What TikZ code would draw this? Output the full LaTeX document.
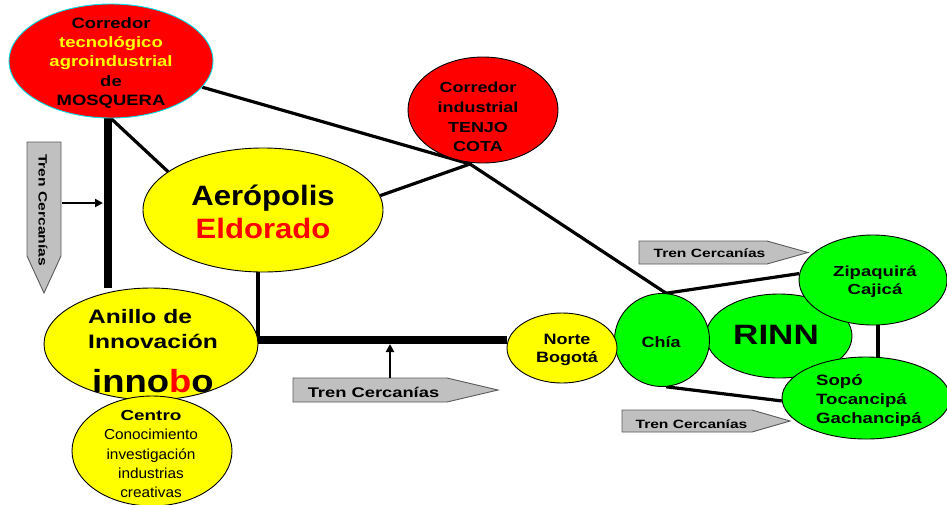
\documentclass[tikz,border=0pt]{standalone}
\usepackage{fontspec}
\setmainfont{Liberation Sans}
\usetikzlibrary{shapes.geometric,arrows.meta,calc,backgrounds}
\definecolor{gRed}{RGB}{255,0,0}
\definecolor{gYel}{RGB}{255,255,0}
\definecolor{gGrn}{RGB}{0,255,0}
\definecolor{gGray}{RGB}{192,192,192}
\definecolor{gGrayD}{RGB}{90,90,90}
\definecolor{gCyan}{RGB}{0,225,235}
\newcommand{\txf}[3]{\fontsize{#1}{#2}\selectfont\addfontfeature{FakeStretch=#3}}
\begin{document}
\begin{tikzpicture}[x=1pt,y=-1pt,
  ell/.style={ellipse, draw=black, line width=0.9pt, inner sep=0pt},
  conn/.style={line width=3.2pt},
  rail/.style={line width=8pt},
  tren/.style={fill=gGray, draw=gGrayD, line width=0.9pt},
  lbl/.style={inner sep=0pt, align=center, text=black},
  ptr/.style={line width=2pt, -{Triangle[length=8pt,width=8pt]}}]
\useasboundingbox (0,0) rectangle (947,504);
\clip (0,0) rectangle (947,504);

% ellipses
\node[ell, draw=gCyan, fill=gRed, minimum width=204, minimum height=114] (mosq) at (111,61) {};
\node[ell, fill=gRed, minimum width=150, minimum height=106] (tenjo) at (483,110) {};
\node[ell, fill=gYel, minimum width=240, minimum height=124] (aero) at (263,210) {};
\node[ell, fill=gYel, minimum width=214, minimum height=112] (anillo) at (151,344) {};
\node[ell, fill=gYel, minimum width=160, minimum height=110] (centro) at (152,451) {};
\node[ell, fill=gGrn, minimum width=146, minimum height=84] (rinn) at (779,336) {};
\node[ell, fill=gGrn, minimum width=95, minimum height=93] (chia) at (662,340) {};
\node[ell, fill=gYel, minimum width=110, minimum height=70] (norte) at (562,348) {};
\node[ell, fill=gGrn, minimum width=148, minimum height=90] (zip) at (873,280) {};
\node[ell, fill=gGrn, minimum width=168, minimum height=82] (sopo) at (866,398) {};

% connectors
\coordinate (j) at (470,164);
\coordinate (railY) at (0,340);
\begin{pgfonlayer}{background}
\draw[conn] (mosq) -- (j) -- (chia.85);
\draw[conn] (aero.7) -- (j);
\draw[conn] (mosq.south) -- (aero.158);
\draw[rail] ([xshift=-3.5pt]mosq.south) -- ([xshift=-3.5pt]mosq.south |- anillo.north);
\draw[rail] (anillo.east |- railY) -- (norte.west |- railY);
\draw[conn] ([xshift=-5pt]aero.south) -- ([xshift=-5pt]aero.south |- railY);
\draw[conn] (chia.85) -- (zip.175);
\draw[conn] (chia.275) -- (sopo.182);
\draw[conn] ([xshift=5pt]zip.south) -- ([xshift=5pt]zip.south |- sopo.north);
\end{pgfonlayer}

% Tren Cercanias pointers
\draw[tren] (27,142) -- (61,142) -- (61,256) -- (44,293) -- (27,256) -- cycle;
\draw[tren] (293,378) -- (447,378) -- (498,390) -- (447,402) -- (293,402) -- cycle;
\draw[tren] (639,241) -- (767,241) -- (808,252.5) -- (767,264) -- (639,264) -- cycle;
\draw[tren] (622,410) -- (752,410) -- (790,421) -- (752,432) -- (622,432) -- cycle;
\coordinate (tvR) at (62,203);
\coordinate (tvE) at (103,203);
\coordinate (tbT) at (390,378);
\coordinate (tbE) at (390,344);
\draw[ptr] (tvR) -- (tvE);
\draw[ptr] (tbT) -- (tbE);

% texts
\node[lbl, font=\bfseries\txf{15}{19.3}{1.23}] (tmosq) at (111,63)
  {Corredor\\\textcolor{gYel}{tecnológico}\\\textcolor{gYel}{agroindustrial}\\de\\MOSQUERA};
\node[lbl, font=\bfseries\txf{14.5}{19.8}{1.24}] (ttenjo) at (478,117)
  {Corredor\\industrial\\TENJO\\COTA};
\node[lbl, font=\bfseries\txf{28}{32.5}{1.11}] (taero) at (263,212)
  {Aerópolis\\\textcolor{gRed}{Eldorado}};
\node[lbl, align=left, anchor=north west, font=\bfseries\txf{19.5}{25}{1.26}] (tanillo) at (88,309)
  {Anillo de\\Innovación};
\node[lbl, anchor=base, font=\bfseries\txf{32}{36}{1.14}] (tinno) at (153,392)
  {inno\textcolor{gRed}{b}o};
\node[lbl, font=\txf{14.5}{19.3}{1.06}] (tcentro) at (151,454)
  {{\bfseries\addfontfeature{FakeStretch=1.3}Centro}\\Conocimiento\\investigación\\industrias\\creativas};
\node[lbl, font=\bfseries\txf{15}{18}{1.2}] (tnorte) at (567,350) {Norte\\Bogotá};
\node[lbl, font=\bfseries\txf{15}{18}{1.2}] (tchia) at (661,342.5) {Chía};
\node[lbl, font=\bfseries\txf{28}{32}{1.25}] (trinn) at (776,335) {RINN};
\node[lbl, font=\bfseries\txf{14.5}{18}{1.28}] (tzip) at (875,282) {Zipaquirá\\Cajicá};
\node[lbl, align=left, anchor=north west, font=\bfseries\txf{15}{19}{1.24}] (tsopo) at (816,374.5)
  {Sopó\\Tocancipá\\Gachancipá};
\node[lbl, anchor=base, font=\bfseries\txf{14}{16}{1.31}] (ttb) at (373.5,397) {Tren Cercanías};
\node[lbl, anchor=base, font=\bfseries\txf{12}{14}{1.3}] (ttr) at (709.5,257) {Tren Cercanías};
\node[lbl, anchor=base, font=\bfseries\txf{12}{14}{1.3}] (ttl) at (691.5,428) {Tren Cercanías};
\node[lbl, rotate=-90, font=\bfseries\txf{12}{14}{1.3}] (ttv) at (43,210) {Tren Cercanías};
\end{tikzpicture}
\end{document}
